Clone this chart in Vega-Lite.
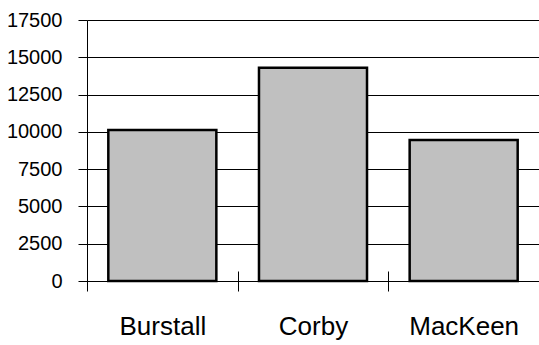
{
  "$schema": "https://vega.github.io/schema/vega-lite/v6.json",
  "width": 452,
  "height": 261,
  "autosize": {"type": "none"},
  "padding": {"left": 87, "top": 20, "right": 0, "bottom": 64},
  "background": "white",
  "config": {"view": {"stroke": null}, "font": "Liberation Sans"},
  "data": {"values": [
    {"name": "Burstall", "value": 10120},
    {"name": "Corby", "value": 14300},
    {"name": "MacKeen", "value": 9450}
  ]},
  "layer": [
    {
      "mark": {"type": "bar", "fill": "#C0C0C0", "stroke": "#000000", "strokeWidth": 2.5, "width": {"band": 0.717}},
      "encoding": {
        "x": {"field": "name", "type": "nominal", "sort": null,
          "scale": {"paddingInner": 0, "paddingOuter": 0},
          "axis": {"title": null, "labelAngle": 0, "labelFont": "Liberation Sans", "labelFontSize": 26, "labelColor": "#000",
            "domainColor": "#000", "domainWidth": 1, "tickColor": "#000", "tickSize": 10, "tickBand": "extent", "labelPadding": 22, "grid": false}},
        "y": {"field": "value", "type": "quantitative",
          "scale": {"domain": [0, 17500], "nice": false},
          "axis": {"title": null, "values": [0, 2500, 5000, 7500, 10000, 12500, 15000, 17500], "format": "d",
            "labelFont": "Liberation Sans", "labelFontSize": 20, "labelColor": "#000", "labelPadding": 16,
            "tickSize": 9, "tickColor": "#000", "domainColor": "#000", "grid": true, "gridColor": "#000", "gridWidth": 1, "gridOpacity": 1}}
      }
    },
    {
      "mark": {"type": "bar", "opacity": 0},
      "encoding": {
        "x": {"field": "name", "type": "nominal", "sort": null,
          "axis": {"orient": "bottom", "title": null, "labels": false, "domain": false, "grid": false, "tickSize": -10, "tickColor": "#000", "tickBand": "extent"}}
      }
    }
  ],
  "resolve": {"axis": {"x": "independent"}}
}
